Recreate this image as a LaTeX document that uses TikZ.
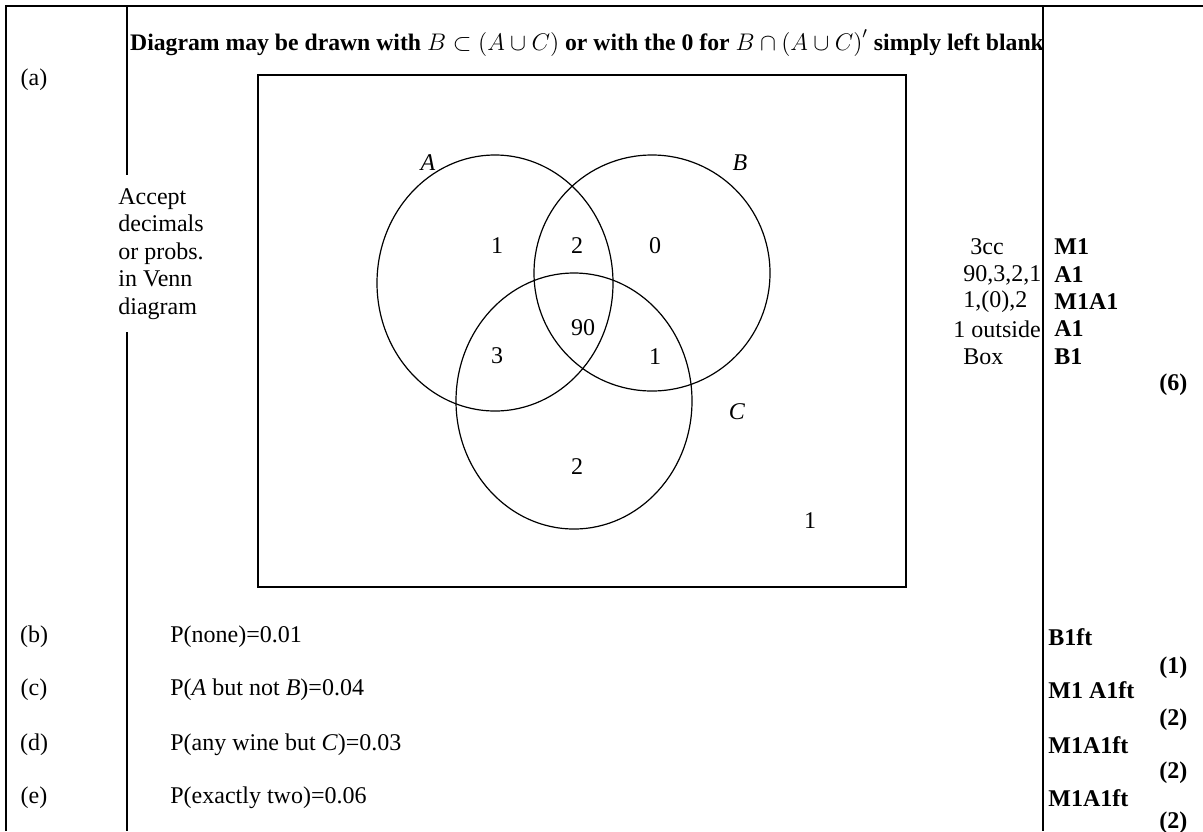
\documentclass[tikz,border=0pt]{standalone}
\usepackage{fontspec}
\setmainfont{Liberation Serif}
\usetikzlibrary{shapes.geometric}
\begin{document}
\begin{tikzpicture}[
            x=0.5pt,
            y=-0.5pt,
            every node/.style={
                inner sep=0pt,
                font=\fontsize{12}{13.75}\selectfont
            },
            rule/.style={line width=0.8pt},
            set/.style={
                ellipse,
                draw,
                line width=0.6pt,
                minimum width=118pt
            },
            marktext/.style={anchor=west, font=\fontsize{12}{13.75}\selectfont\bfseries}
        ]
            \useasboundingbox (0,0) rectangle (1203,831);

            % table rules
            \draw[rule] (6,831) -- (6,6) -- (1203,6);
            \draw[rule] (127,6) -- (127,175);
            \draw[rule] (127,332) -- (127,831);
            \draw[rule] (1043,6) -- (1043,831);

            % part (a)
            \node (a) at (34,80) {(a)};
            \node[font=\fontsize{11.85}{13.75}\selectfont\bfseries] (head) at (587,43) {Diagram may be drawn with $B\subset\left(A\cup C\right)$ or with the 0 for $B\cap\left(A\cup C\right)'$ simply left blank};
            \node[anchor=north west, align=left] (accept) at (118,188) {Accept\\decimals\\or probs.\\in Venn\\diagram};

            % Venn diagram
            \draw[line width=0.6pt] (258,75) rectangle (906,587);
            \node[set, minimum height=128pt] (setA) at (495,283) {};
            \node[set, minimum height=118pt] (setB) at (652,273) {};
            \node[set, minimum height=128pt] (setC) at (574,401) {};

            \node (lA) at (428,163) {\textit{A}};
            \node (lB) at (740,163) {\textit{B}};
            \node (lC) at (737,412) {\textit{C}};

            \node (nA) at (497,246) {1};
            \node (nAB) at (577,246) {2};
            \node (nB) at (655,246) {0};
            \node (nABC) at (583,328) {90};
            \node (nAC) at (497,356) {3};
            \node (nBC) at (655,357) {1};
            \node (nC) at (577,467) {2};
            \node (nout) at (810,521) {1};

            % notes and marks for (a)
            \node[anchor=west] (c1) at (970,247) {3cc};
            \node[anchor=west] (c2) at (963,275) {90,3,2,1};
            \node[anchor=west] (c3) at (963,302) {1,(0),2};
            \node[anchor=west] (c4) at (953,329) {1 outside};
            \node[anchor=west] (c5) at (963,357) {Box};
            \node[marktext] (m1) at (1054,247) {M1};
            \node[marktext] (m2) at (1054,275) {A1};
            \node[marktext] (m3) at (1054,302) {M1A1};
            \node[marktext] (m4) at (1054,329) {A1};
            \node[marktext] (m5) at (1054,357) {B1};
            \node[marktext] (t6) at (1159,385) {(6)};

            % parts (b) to (e)
            \node (b) at (34,637) {(b)};
            \node (c) at (34,690) {(c)};
            \node (d) at (34,745) {(d)};
            \node (e) at (34,798) {(e)};
            \node[anchor=west] (pb) at (170,637) {P(none)=0.01};
            \node[anchor=west] (pc) at (170,690) {P(\textit{A} but not \textit{B})=0.04};
            \node[anchor=west] (pd) at (170,745) {P(any wine but \textit{C})=0.03};
            \node[anchor=west] (pe) at (170,798) {P(exactly two)=0.06};
            \node[marktext] (mb) at (1048,637) {B1ft};
            \node[marktext] (mc) at (1048,690) {M1 A1ft};
            \node[marktext] (md) at (1048,745) {M1A1ft};
            \node[marktext] (me) at (1048,798) {M1A1ft};
            \node[marktext] (tb) at (1159,668) {(1)};
            \node[marktext] (tc) at (1159,720) {(2)};
            \node[marktext] (td) at (1159,773) {(2)};
            \node[marktext] (te) at (1159,823) {(2)};
        \end{tikzpicture}
\end{document}
